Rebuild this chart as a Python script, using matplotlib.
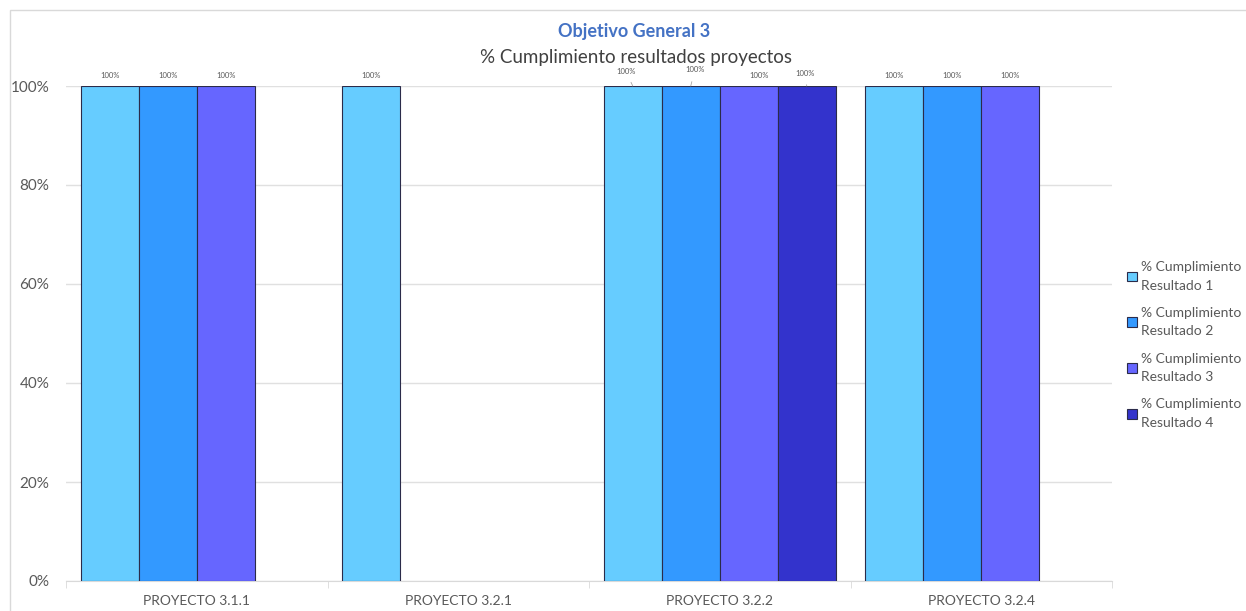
import matplotlib.pyplot as plt
from matplotlib.patches import Rectangle
import numpy as np

plt.rcParams['font.family'] = ['Lato', 'DejaVu Sans']

proyectos = ['PROYECTO 3.1.1', 'PROYECTO 3.2.1', 'PROYECTO 3.2.2', 'PROYECTO 3.2.4']
resultado_1 = [1.0, 1.0, 1.0, 1.0]
resultado_2 = [1.0, np.nan, 1.0, 1.0]
resultado_3 = [1.0, np.nan, 1.0, 1.0]
resultado_4 = [np.nan, np.nan, 1.0, np.nan]
series_names = ['% Cumplimiento\nResultado 1', '% Cumplimiento\nResultado 2',
                '% Cumplimiento\nResultado 3', '% Cumplimiento\nResultado 4']
colors = ['#66CCFF', '#3399FF', '#6666FF', '#3333CC']

# label offsets in pixels (dx, dy) for the crowded group, others go straight up
label_offsets = {(2, 0): (-7, 15), (2, 1): (4, 16), (2, 2): (10, 10), (2, 3): (-2, 13)}

fig = plt.figure(figsize=(12.46, 6.11), dpi=100)
fig.patches.append(Rectangle((10 / 1246, -0.1), 1.2, 1 - 10 / 611 + 0.1,
                             transform=fig.transFigure, fill=False,
                             edgecolor='#D9D9D9', linewidth=1))
ax = fig.add_axes([66 / 1246, 1 - 581 / 611, (1112 - 66) / 1246, (581 - 86) / 611])

x = np.arange(len(proyectos))
w = 58 / 261.5
all_series = [resultado_1, resultado_2, resultado_3, resultado_4]
for i, vals in enumerate(all_series):
    pos = x + (i - 1.5) * w
    ax.bar(pos, vals, width=w, color=colors[i], edgecolor='#2B2B4A',
           linewidth=0.8, label=series_names[i], zorder=3)
    for j, v in enumerate(vals):
        if np.isnan(v):
            continue
        dx, dy = label_offsets.get((j, i), (0, 11))
        ax.annotate('%d%%' % round(v * 100), xy=(pos[j], v), xytext=(dx, dy),
                    textcoords='offset pixels', ha='center', va='center',
                    fontsize=5.5, color='#595959', annotation_clip=False,
                    arrowprops=dict(arrowstyle='-', color='#A6A6A6', lw=0.6,
                                    shrinkA=4, shrinkB=0)
                    if (j, i) in label_offsets and (j, i) != (2, 2) else None)

ax.set_xlim(-0.5, len(proyectos) - 0.5)
ax.set_ylim(0, 1)
ax.set_yticks(np.arange(0, 1.01, 0.2))
ax.set_yticklabels(['%d%%' % round(t * 100) for t in np.arange(0, 1.01, 0.2)])
ax.grid(axis='y', color='#E0E0E0', linewidth=1, zorder=0)
ax.set_xticks(x)
ax.set_xticklabels(proyectos)
ax.set_xticks(np.arange(-0.5, len(proyectos)), minor=True)
ax.tick_params(axis='x', which='major', length=0, pad=10, labelsize=10, labelcolor='#595959')
ax.tick_params(axis='x', which='minor', length=5, color='#D9D9D9')
ax.tick_params(axis='y', length=0, pad=12, labelsize=11, labelcolor='#595959')
for s in ['top', 'right', 'left']:
    ax.spines[s].set_visible(False)
ax.spines['bottom'].set_color('#D9D9D9')

fig.text(634 / 1246, 1 - 32 / 611, 'Objetivo General 3', ha='center', va='center',
         fontsize=13, fontweight='bold', color='#4472C4')
fig.text(636 / 1246, 1 - 57 / 611, '% Cumplimiento resultados proyectos', ha='center',
         va='center', fontsize=13.5, color='#404040')

leg = fig.legend(loc='center left', bbox_to_anchor=(1124 / 1246, 1 - 345 / 611),
                 frameon=False, fontsize=10, labelcolor='#595959', handlelength=0.7,
                 handleheight=0.7, handletextpad=0.3, labelspacing=1.1,
                 borderpad=0.2, borderaxespad=0)
for t in leg.get_texts():
    t.set_linespacing(1.65)

fig.savefig('out.png', dpi=100)
